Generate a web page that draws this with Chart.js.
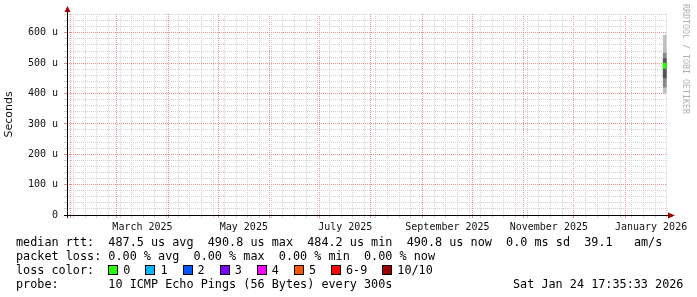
<!DOCTYPE html>
<html>
<head>
<meta charset="utf-8">
<script src="https://cdn.jsdelivr.net/npm/chart.js@4/dist/chart.umd.min.js"></script>
<style>
    body { margin: 0; background: #fff; }
    #wrap { position: relative; width: 697px; height: 297px; overflow: hidden; }
    #graf { position: absolute; left: 0; top: 0; }
    .ligne { position: absolute; left: 16px; font-family: "DejaVu Sans Mono", monospace; font-size: 11.8px; line-height: 14px; white-space: pre; color: #000; }
    .case { display: inline-block; width: 8px; height: 8px; border: 1px solid #000; vertical-align: -1px; margin-right: 5px; }
    .item { margin-right: 15px; }
    #rrd { position: absolute; left: 681px; top: 4px; writing-mode: vertical-rl; font-family: "DejaVu Sans Mono", monospace; font-size: 8.3px; color: #b0b0b0; }
</style>
</head>
<body>
<div id="wrap">
    <canvas id="graf" width="697" height="297"></canvas>
    <div id="rrd">RRDTOOL / TOBI OETIKER</div>
    <div class="ligne" id="l1" style="top:235px"></div>
    <div class="ligne" id="l2" style="top:249px"></div>
    <div class="ligne" id="l3" style="top:263px"></div>
    <div class="ligne" id="l4" style="top:277px"></div>
</div>
<script>
// jours depuis le 1er janvier 2025
const debut = 29.1
const fin = 390.1

// le seul echantillon visible (24 janvier 2026 17:35)
const tempsMesure = [388.73]
const fumeeExterieure = [[401, 592]]
const fumeeMilieu = [[421, 533]]
const fumeeCentre = [[452, 515]]
const mediane = [[483, 500]]

// graduations
const yValeurs = [0, 100, 200, 300, 400, 500, 600]
const yLabels = ['0', '100 u', '200 u', '300 u', '400 u', '500 u', '600 u']
const moisLabels = ['March 2025', 'May 2025', 'July 2025', 'September 2025', 'November 2025', 'January 2026']
const moisIndex = [2, 4, 6, 8, 10, 12] // mois depuis janvier 2025

// legende
const lossLabels = ['0', '1', '2', '3', '4', '5', '6-9', '10/10']
const lossCouleurs = ['#26ff00', '#00b8ff', '#0059ff', '#7e00ff', '#ff00ff', '#ff5500', '#ff0000', '#a10000']
const ligneRtt = 'median rtt:  487.5 us avg  490.8 us max  484.2 us min  490.8 us now  0.0 ms sd  39.1   am/s'
const ligneLoss = 'packet loss: 0.00 % avg  0.00 % max  0.00 % min  0.00 % now'
const ligneProbe = 'probe:       10 ICMP Echo Pings (56 Bytes) every 300s'
const dateGraphe = 'Sat Jan 24 17:35:33 2026'

const jour = 86400000
const t0 = Date.UTC(2025, 0, 1)
function jourDuMois(m) {
    return (Date.UTC(2025, m, 1) - t0) / jour
}

// ticks de l'axe x : debut de mois (rouge), lundis (gris), milieu de mois (texte)
let typeTick = {}
for (let d = 5; d <= fin; d += 7) {
    if (d >= debut) typeTick[d] = 'semaine'
}
for (let m = 0; m < 14; m++) {
    let d = jourDuMois(m)
    if (d >= debut && d <= fin) typeTick[d] = 'mois' // le rouge gagne sur le gris
}
let texteMilieu = {}
moisIndex.forEach((m, i) => {
    let milieu = (jourDuMois(m) + jourDuMois(m + 1)) / 2
    texteMilieu[milieu] = moisLabels[i]
    typeTick[milieu] = 'texte'
})
let xTicks = Object.keys(typeTick).map(Number).sort((a, b) => a - b)

let yTicks = []
for (let v = 0; v <= 660; v += 20) yTicks.push(v)

const rouge = '#ec9090'
const gris = '#d2d2d2'

function serie(valeurs, couleur) {
    return {
        data: valeurs.map((v, i) => ({ x: tempsMesure[i], y: v })),
        backgroundColor: couleur,
        borderWidth: 0,
        barThickness: 3,
        grouped: false
    }
}

const axes = {
    id: 'axes',
    afterDraw(chart) {
        const ctx = chart.ctx
        const a = chart.chartArea
        ctx.save()
        ctx.strokeStyle = '#000'
        ctx.lineWidth = 1
        ctx.beginPath()
        ctx.moveTo(a.left - 3, a.bottom + 0.5)
        ctx.lineTo(a.right + 2, a.bottom + 0.5)
        ctx.moveTo(a.left + 0.5, a.bottom + 3)
        ctx.lineTo(a.left + 0.5, a.top - 2)
        ctx.stroke()
        ctx.fillStyle = '#a00000'
        ctx.beginPath()
        ctx.moveTo(a.right + 1, a.bottom - 2.5)
        ctx.lineTo(a.right + 8, a.bottom + 0.5)
        ctx.lineTo(a.right + 1, a.bottom + 3.5)
        ctx.fill()
        ctx.beginPath()
        ctx.moveTo(a.left - 2.5, a.top - 2)
        ctx.lineTo(a.left + 0.5, a.top - 8)
        ctx.lineTo(a.left + 3.5, a.top - 2)
        ctx.fill()
        ctx.restore()
    }
}

new Chart(document.getElementById('graf'), {
    type: 'bar',
    data: {
        datasets: [
            serie(mediane, '#26ff00'),
            serie(fumeeCentre, '#555555'),
            serie(fumeeMilieu, '#888888'),
            serie(fumeeExterieure, '#c0c0c0')
        ]
    },
    options: {
        responsive: false,
        animation: false,
        layout: { padding: { top: 14, right: 30, bottom: 62, left: 0 } },
        plugins: { legend: { display: false }, tooltip: { enabled: false } },
        scales: {
            x: {
                type: 'linear',
                offset: false,
                min: debut,
                max: fin,
                afterBuildTicks: s => { s.ticks = xTicks.map(v => ({ value: v })) },
                afterFit: s => { s.height = 20 },
                grid: {
                    color: c => typeTick[c.tick.value] === 'mois' ? rouge : (typeTick[c.tick.value] === 'semaine' ? gris : 'transparent'),
                    tickLength: 3,
                    offset: false
                },
                border: { display: false, dash: [1, 1] },
                ticks: {
                    autoSkip: false,
                    maxRotation: 0,
                    padding: 3,
                    color: '#111',
                    font: { family: 'DejaVu Sans Mono', size: 10 },
                    callback: v => texteMilieu[v] || ''
                }
            },
            y: {
                min: 0,
                max: 662,
                afterBuildTicks: s => { s.ticks = yTicks.map(v => ({ value: v })) },
                afterFit: s => { s.width = 67 },
                grid: {
                    color: c => c.tick.value === 0 ? 'transparent' : (c.tick.value % 100 === 0 ? rouge : gris),
                    tickLength: 3
                },
                border: { display: false, dash: [1, 1] },
                title: {
                    display: true,
                    text: 'Seconds',
                    color: '#111',
                    padding: { top: 3, bottom: 0 },
                    font: { family: 'DejaVu Sans', size: 11 }
                },
                ticks: {
                    autoSkip: false,
                    padding: 6,
                    color: '#111',
                    font: { family: 'DejaVu Sans Mono', size: 10 },
                    callback: v => {
                        let i = yValeurs.indexOf(v)
                        return i >= 0 ? yLabels[i] : ''
                    }
                }
            }
        }
    },
    plugins: [axes]
});

// texte de legende
document.getElementById('l1').textContent = ligneRtt
document.getElementById('l2').textContent = ligneLoss
let l3 = document.getElementById('l3')
l3.appendChild(document.createTextNode('loss color:  '))
lossLabels.forEach((lab, i) => {
    let c = document.createElement('span')
    c.className = 'case'
    c.style.background = lossCouleurs[i]
    l3.appendChild(c)
    let t = document.createElement('span')
    t.className = 'item'
    t.textContent = lab
    l3.appendChild(t)
})
let l4 = document.getElementById('l4')
l4.textContent = ligneProbe
let d = document.createElement('span')
d.style.position = 'absolute'
d.style.left = '497px'
d.textContent = dateGraphe
l4.appendChild(d)
</script>
</body>
</html>
